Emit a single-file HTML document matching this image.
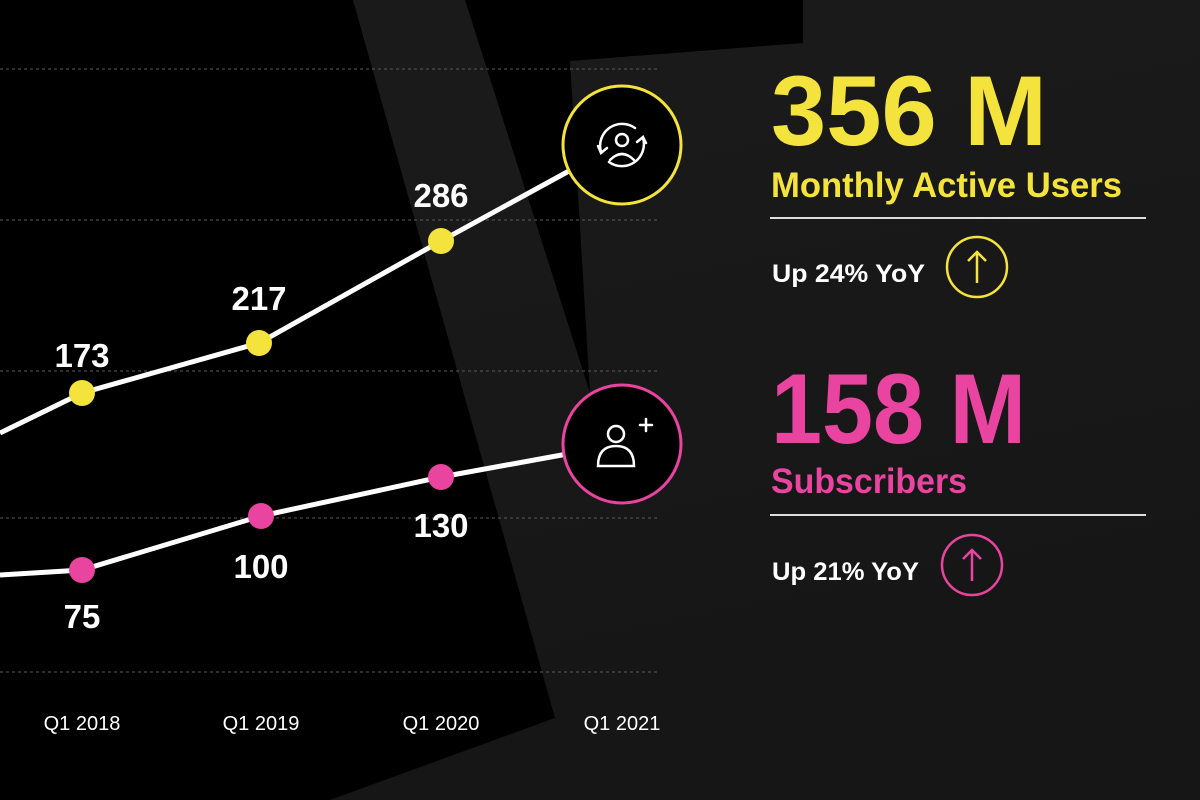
<!DOCTYPE html>
<html><head><meta charset="utf-8"><style>html,body{margin:0;padding:0;background:#000}svg{display:block}</style></head>
<body>
<svg width="1200" height="800" viewBox="0 0 1200 800" xmlns="http://www.w3.org/2000/svg" font-family="Liberation Sans, sans-serif" font-weight="bold">
<defs>
<linearGradient id="bg" x1="0" y1="0" x2="0.3" y2="1">
<stop offset="0" stop-color="#1b1b1b"/><stop offset="1" stop-color="#161616"/>
</linearGradient>
</defs>
<rect width="1200" height="800" fill="url(#bg)"/>
<polygon points="0,0 353,0 555,718 330,800 0,800" fill="#000"/>
<polygon points="465,0 803,0 803,43 570,61 590,393" fill="#000"/>
<g stroke="#5a5a5a" stroke-width="1" stroke-dasharray="3,3">
<line x1="0" y1="69" x2="657" y2="69"/>
<line x1="0" y1="220" x2="657" y2="220"/>
<line x1="0" y1="371" x2="657" y2="371"/>
<line x1="0" y1="518" x2="657" y2="518"/>
<line x1="0" y1="672" x2="657" y2="672"/>
</g>
<polyline points="0,433 82,393 259,343 441,241 622,142" fill="none" stroke="#fff" stroke-width="5"/>
<polyline points="0,575 82,570 261,516 441,477 622,444" fill="none" stroke="#fff" stroke-width="5"/>
<g fill="#f5e33d"><circle cx="82" cy="393" r="13"/><circle cx="259" cy="343" r="13"/><circle cx="441" cy="241" r="13"/></g>
<g fill="#e9449f"><circle cx="82" cy="570" r="13"/><circle cx="261" cy="516" r="13"/><circle cx="441" cy="477" r="13"/></g>
<circle cx="622" cy="145" r="59" fill="#000" stroke="#f5e33d" stroke-width="3"/>
<circle cx="622" cy="444" r="59" fill="#000" stroke="#e9449f" stroke-width="3"/>
<g fill="none" stroke="#fff" stroke-width="2.5" stroke-linecap="round">
<circle cx="622" cy="140" r="6"/>
<path d="M610,160 Q622,148 634,160"/>
<path d="M601,152 A22,22 0 0 1 635,128"/>
<path d="M643,138 A22,22 0 0 1 609,162"/>
<path d="M598,146 L601,153 L607,148"/>
<path d="M646,143 L643,137 L637,142"/>
</g>
<g fill="none" stroke="#fff" stroke-width="2.5" stroke-linecap="round">
<circle cx="616" cy="434" r="8"/>
<path d="M598,466 Q598,446 616,446 Q634,446 634,466 Z"/>
<path d="M640,425 h12 M646,419 v12"/>
</g>
<g fill="#fff" font-size="33" text-anchor="middle">
<text x="82" y="367">173</text><text x="259" y="310">217</text><text x="441" y="207">286</text>
<text x="82" y="628">75</text><text x="261" y="578">100</text><text x="441" y="537">130</text>
</g>
<g fill="#fff" font-size="20" text-anchor="middle" font-weight="normal">
<text x="82" y="730">Q1  2018</text><text x="261" y="730">Q1  2019</text><text x="441" y="730">Q1 2020</text><text x="622" y="730">Q1 2021</text>
</g>
<text x="771" y="145" fill="#f5e33d" font-size="99" textLength="276" lengthAdjust="spacingAndGlyphs">356 M</text>
<text x="771" y="197" fill="#f5e33d" font-size="35" textLength="351" lengthAdjust="spacingAndGlyphs">Monthly Active Users</text>
<line x1="770" y1="218" x2="1146" y2="218" stroke="#ddd" stroke-width="2"/>
<text x="772" y="282" fill="#fff" font-size="25" textLength="153" lengthAdjust="spacingAndGlyphs">Up 24% YoY</text>
<circle cx="977" cy="267" r="30" fill="none" stroke="#f5e33d" stroke-width="2.5"/>
<path d="M977,283 V252 M968,261 L977,252 L986,261" fill="none" stroke="#f5e33d" stroke-width="2.5"/>
<text x="771" y="443" fill="#e9449f" font-size="99" textLength="255" lengthAdjust="spacingAndGlyphs">158 M</text>
<text x="771" y="493" fill="#e9449f" font-size="35" textLength="196" lengthAdjust="spacingAndGlyphs">Subscribers</text>
<line x1="770" y1="515" x2="1146" y2="515" stroke="#ddd" stroke-width="2"/>
<text x="772" y="580" fill="#fff" font-size="25" textLength="147" lengthAdjust="spacingAndGlyphs">Up 21% YoY</text>
<circle cx="972" cy="565" r="30" fill="none" stroke="#e9449f" stroke-width="2.5"/>
<path d="M972,581 V550 M963,559 L972,550 L981,559" fill="none" stroke="#e9449f" stroke-width="2.5"/>
</svg>
</body></html>
